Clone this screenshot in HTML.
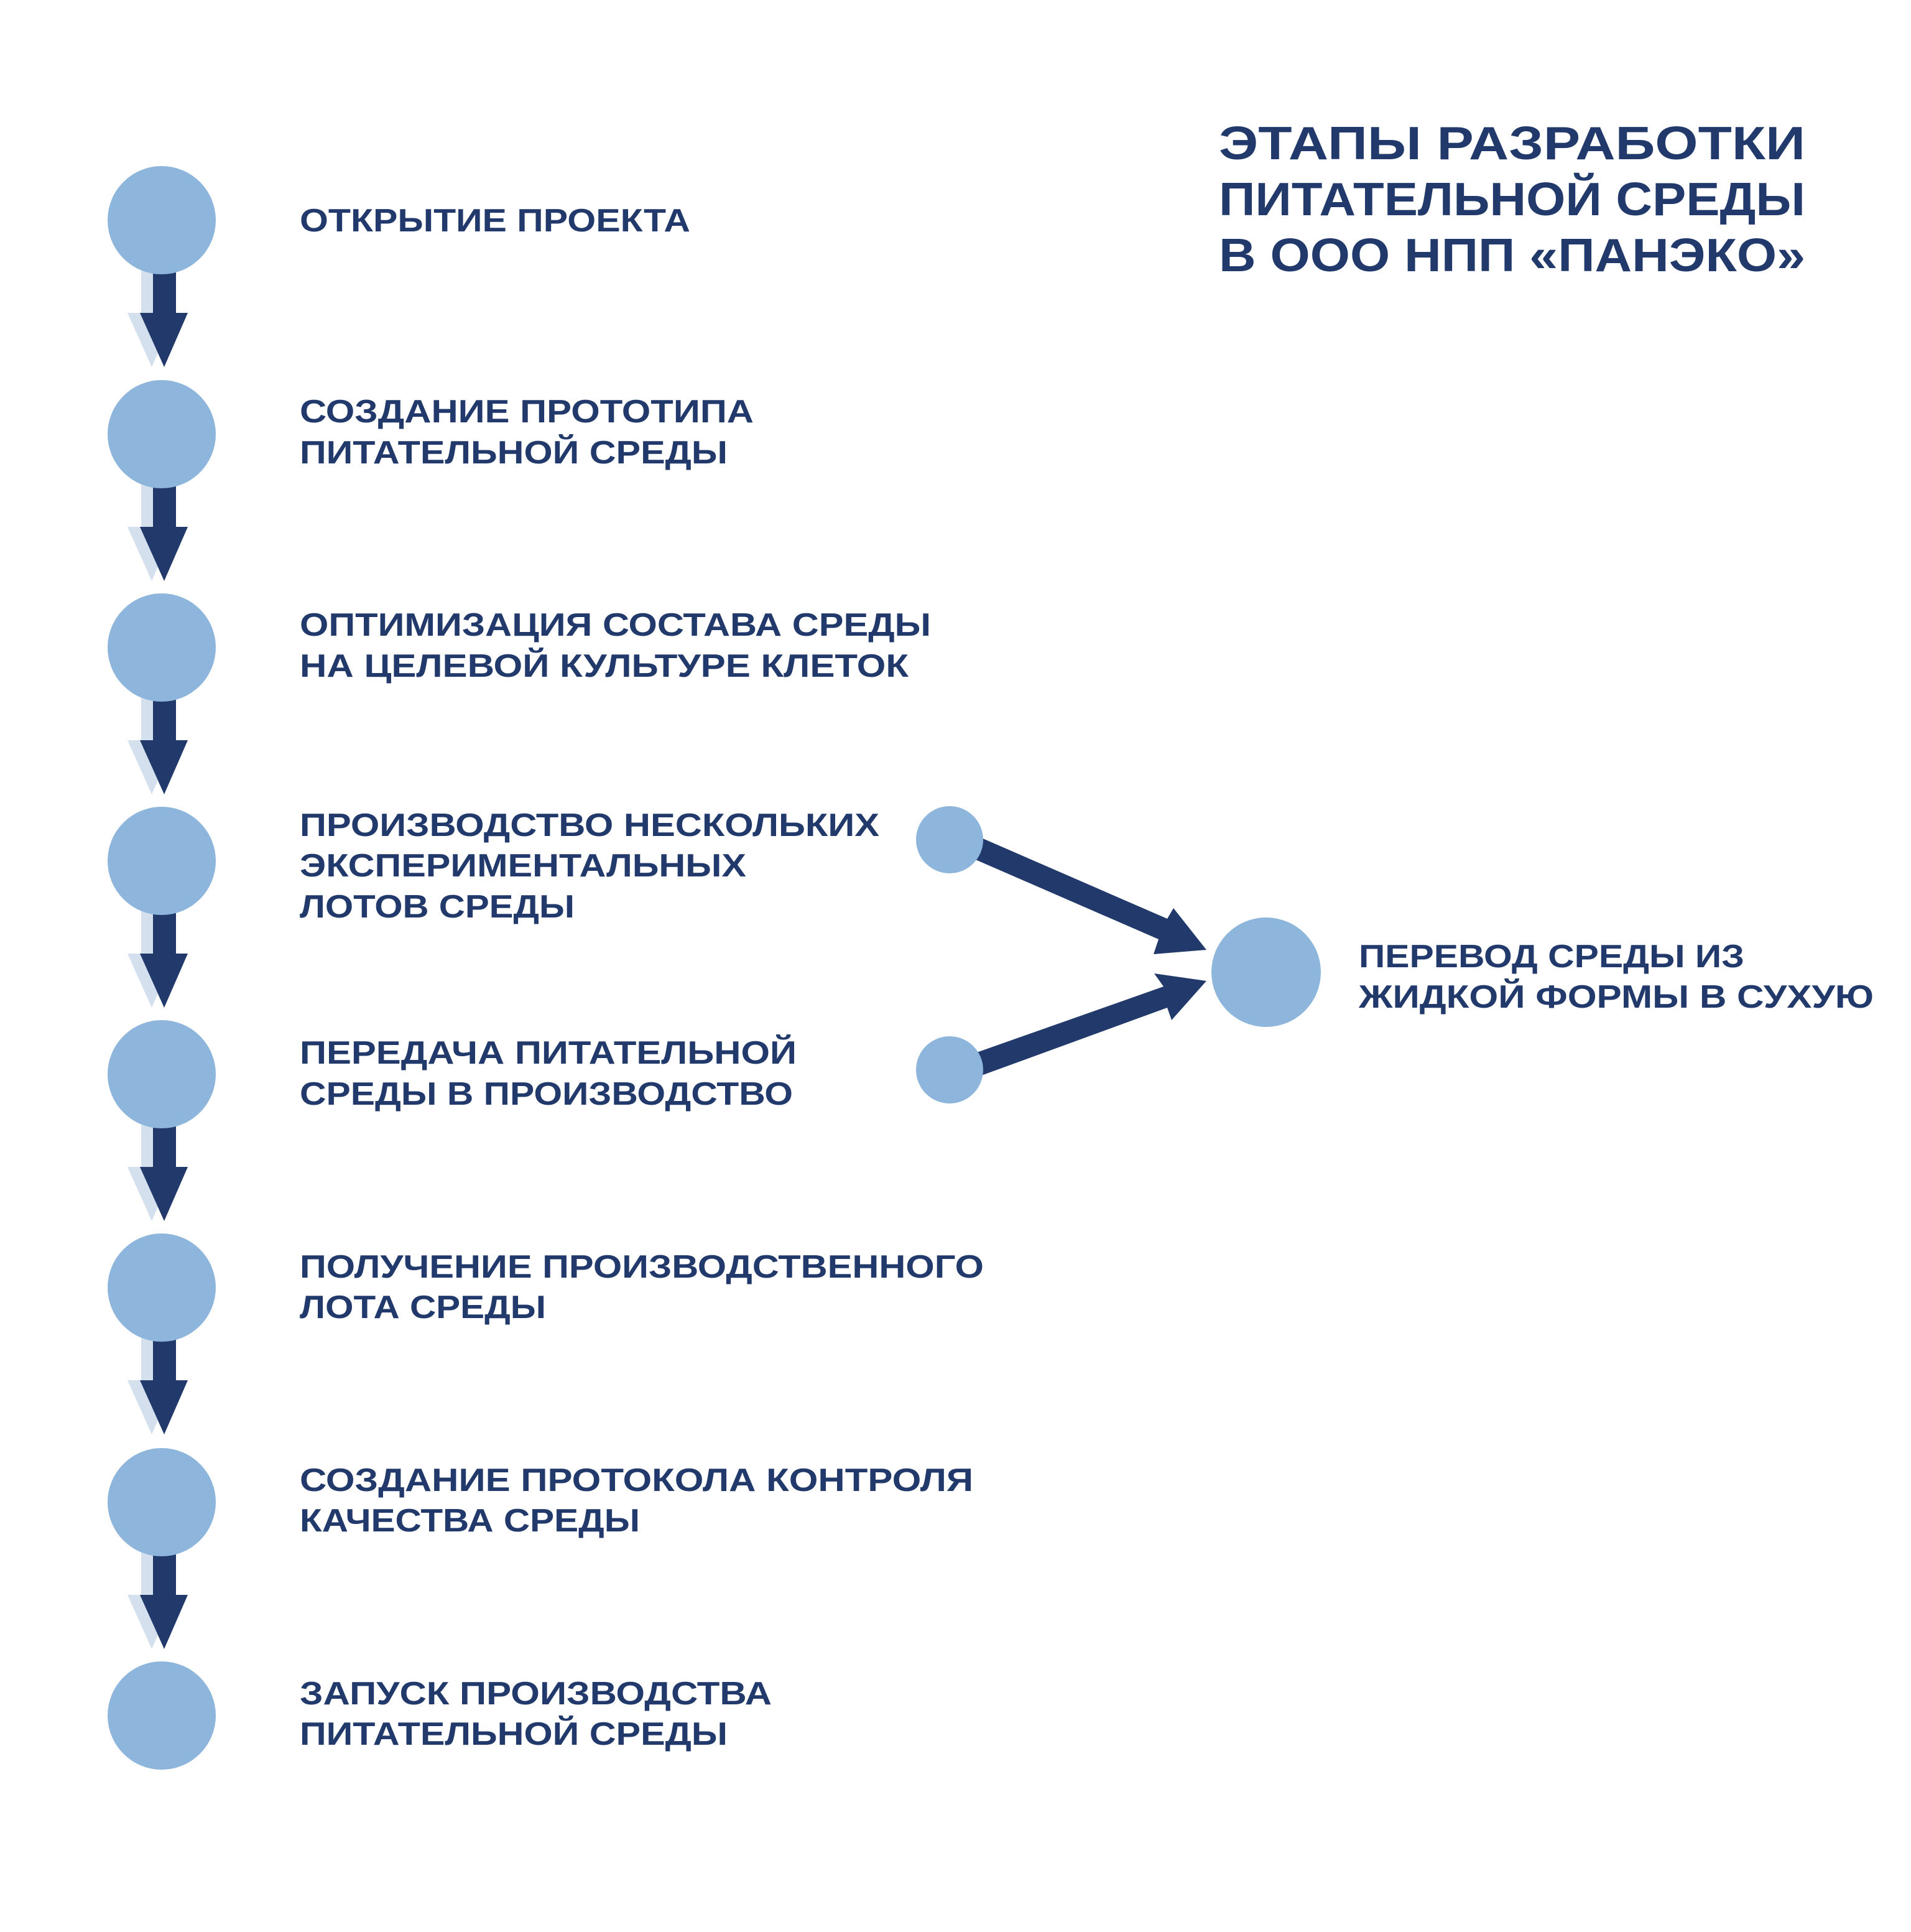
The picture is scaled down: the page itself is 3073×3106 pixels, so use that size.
<!DOCTYPE html>
<html><head><meta charset="utf-8"><style>html,body{margin:0;padding:0;background:#fff}svg{display:block}</style></head>
<body>
<svg width="3073" height="3106" viewBox="0 0 3073 3106" xmlns="http://www.w3.org/2000/svg">
<defs>
<g id="arr">
  <rect x="227" y="80" width="37" height="70" fill="#d4e0ee"/>
  <polygon points="205,149 282,149 244,236" fill="#d4e0ee"/>
  <rect x="246" y="80" width="37" height="70" fill="#223a6b"/>
  <polygon points="225,149 302,149 264,236" fill="#223a6b"/>
</g>
</defs>
<use href="#arr" y="354"/>
<use href="#arr" y="698"/>
<use href="#arr" y="1041"/>
<use href="#arr" y="1384"/>
<use href="#arr" y="1727"/>
<use href="#arr" y="2070"/>
<use href="#arr" y="2415"/>
<g fill="#223a6b">
<polygon points="1562,1340 1877,1477 1887,1460 1940,1527 1855,1534 1863,1510 1548,1373"/>
<polygon points="1548,1700 1871,1586 1856,1565 1940,1577 1884,1640 1877,1620 1559,1736"/>
</g>
<g fill="#8eb6dc">
<circle cx="260" cy="354" r="87"/>
<circle cx="260" cy="698" r="87"/>
<circle cx="260" cy="1041" r="87"/>
<circle cx="260" cy="1384" r="87"/>
<circle cx="260" cy="1727" r="87"/>
<circle cx="260" cy="2070" r="87"/>
<circle cx="260" cy="2415" r="87"/>
<circle cx="260" cy="2758" r="87"/>
<circle cx="2036" cy="1563" r="88"/>
<circle cx="1527" cy="1350" r="54"/>
<circle cx="1527" cy="1720" r="54"/>
</g>
<g font-family="Liberation Sans, sans-serif" font-weight="bold" fill="#223a6b" font-size="52">
<text x="482" y="372" textLength="628" lengthAdjust="spacingAndGlyphs">ОТКРЫТИЕ ПРОЕКТА</text>
<text x="482" y="679" textLength="730" lengthAdjust="spacingAndGlyphs">СОЗДАНИЕ ПРОТОТИПА</text>
<text x="482" y="745" textLength="688" lengthAdjust="spacingAndGlyphs">ПИТАТЕЛЬНОЙ СРЕДЫ</text>
<text x="482" y="1022" textLength="1015" lengthAdjust="spacingAndGlyphs">ОПТИМИЗАЦИЯ СОСТАВА СРЕДЫ</text>
<text x="482" y="1088" textLength="979" lengthAdjust="spacingAndGlyphs">НА ЦЕЛЕВОЙ КУЛЬТУРЕ КЛЕТОК</text>
<text x="482" y="1344" textLength="932" lengthAdjust="spacingAndGlyphs">ПРОИЗВОДСТВО НЕСКОЛЬКИХ</text>
<text x="482" y="1409" textLength="718" lengthAdjust="spacingAndGlyphs">ЭКСПЕРИМЕНТАЛЬНЫХ</text>
<text x="482" y="1475" textLength="442" lengthAdjust="spacingAndGlyphs">ЛОТОВ СРЕДЫ</text>
<text x="482" y="1710" textLength="799" lengthAdjust="spacingAndGlyphs">ПЕРЕДАЧА ПИТАТЕЛЬНОЙ</text>
<text x="482" y="1776" textLength="793" lengthAdjust="spacingAndGlyphs">СРЕДЫ В ПРОИЗВОДСТВО</text>
<text x="482" y="2054" textLength="1100" lengthAdjust="spacingAndGlyphs">ПОЛУЧЕНИЕ ПРОИЗВОДСТВЕННОГО</text>
<text x="482" y="2119" textLength="396" lengthAdjust="spacingAndGlyphs">ЛОТА СРЕДЫ</text>
<text x="482" y="2397" textLength="1083" lengthAdjust="spacingAndGlyphs">СОЗДАНИЕ ПРОТОКОЛА КОНТРОЛЯ</text>
<text x="482" y="2462" textLength="547" lengthAdjust="spacingAndGlyphs">КАЧЕСТВА СРЕДЫ</text>
<text x="482" y="2740" textLength="759" lengthAdjust="spacingAndGlyphs">ЗАПУСК ПРОИЗВОДСТВА</text>
<text x="482" y="2805" textLength="688" lengthAdjust="spacingAndGlyphs">ПИТАТЕЛЬНОЙ СРЕДЫ</text>
<text x="2185" y="1555" textLength="620" lengthAdjust="spacingAndGlyphs">ПЕРЕВОД СРЕДЫ ИЗ</text>
<text x="2185" y="1620" textLength="828" lengthAdjust="spacingAndGlyphs">ЖИДКОЙ ФОРМЫ В СУХУЮ</text>
</g>
<g font-family="Liberation Sans, sans-serif" font-weight="bold" fill="#223a6b" font-size="75">
<text x="1960" y="256" textLength="943" lengthAdjust="spacingAndGlyphs">ЭТАПЫ РАЗРАБОТКИ</text>
<text x="1960" y="346" textLength="943" lengthAdjust="spacingAndGlyphs">ПИТАТЕЛЬНОЙ СРЕДЫ</text>
<text x="1960" y="436" textLength="943" lengthAdjust="spacingAndGlyphs">В ООО НПП «ПАНЭКО»</text>
</g>
</svg>
</body></html>
